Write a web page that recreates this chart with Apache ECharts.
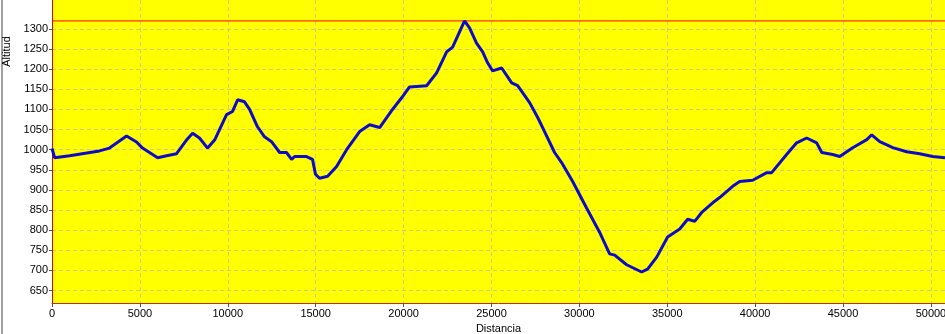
<!DOCTYPE html>
<html>
<head>
<meta charset="utf-8">
<title>Perfil</title>
<script src="https://cdn.jsdelivr.net/npm/echarts@6/dist/echarts.min.js"></script>
<style>
html, body { margin: 0; padding: 0; background: #fff; }
#main { width: 945px; height: 334px; }
</style>
</head>
<body>
<div id="main"></div>
<script>
var distancia = [0, 150, 1000, 2700, 3270, 4240, 4810, 5150, 6010, 6515, 7085, 7650, 8000, 8390, 8850,
    9250, 9930, 10270, 10560, 10950, 11240, 11690, 12090, 12490, 12950, 13340, 13630, 13800, 14480, 14820,
    14990, 15220, 15680, 16190, 16760, 17500, 18070, 18640, 19370, 19890, 20340, 21310, 21880, 22450,
    22790, 23470, 23760, 24150, 24500, 24780, 25060, 25580, 26150, 26490, 27170, 27630, 27910, 28590,
    28990, 29620, 30410, 31150, 31720, 32010, 32690, 33540, 33880, 34400, 35020, 35710, 36160, 36560,
    36960, 37700, 37980, 38720, 39120, 39860, 40660, 40940, 41790, 42360, 42930, 43500, 43790, 44410,
    44810, 45550, 46350, 46630, 47090, 47830, 48620, 49360, 50100, 50800];
var altitud = [1003, 980, 985, 997, 1004, 1034, 1019, 1004, 980, 985, 990, 1024, 1041, 1029, 1004,
    1024, 1087, 1095, 1124, 1119, 1100, 1057, 1032, 1020, 993, 993, 976, 983, 983, 976,
    939, 929, 934, 958, 1000, 1045, 1062, 1055, 1100, 1129, 1156, 1159, 1191, 1243,
    1255, 1320, 1302, 1265, 1243, 1216, 1196, 1203, 1166, 1159, 1117, 1080, 1055, 993,
    968, 921, 855, 795, 741, 738, 714, 696, 703, 733, 783, 803, 827, 822,
    844, 872, 881, 909, 921, 924, 943, 943, 988, 1017, 1029, 1017, 993, 988,
    983, 1005, 1025, 1037, 1020, 1005, 995, 990, 983, 980];
var ticksY = [650, 700, 750, 800, 850, 900, 950, 1000, 1050, 1100, 1150, 1200, 1250, 1300];
var ticksX = [0, 5000, 10000, 15000, 20000, 25000, 30000, 35000, 40000, 45000, 50000];

var puntos = distancia.map(function (d, i) { return [d, altitud[i]]; });
var altMax = Math.max.apply(null, altitud);

var fuente = { fontFamily: 'Liberation Sans', fontSize: 11, color: '#000' };
var rejilla = { show: true, lineStyle: { color: '#d2c888', type: [4, 3], width: 1 } };
var sinComas = function (v) { return String(v); };

var chart = echarts.init(document.getElementById('main'));
chart.setOption({
    animation: false,
    backgroundColor: '#fff',
    grid: {
        left: 52, right: 0, top: 0, bottom: 31,
        outerBoundsMode: 'none',
        containLabel: false,
        show: true, backgroundColor: '#ffff00', borderWidth: 0
    },
    xAxis: {
        type: 'value',
        min: 0,
        max: 50800,
        name: 'Distancia',
        nameLocation: 'middle',
        nameGap: 18,
        nameTextStyle: fuente,
        axisLine: { show: true, lineStyle: { color: '#c03010', width: 1 } },
        axisTick: { show: true, length: 4, lineStyle: { color: '#555' }, customValues: ticksX },
        axisLabel: Object.assign({ margin: 5, customValues: ticksX, formatter: sinComas }, fuente),
        splitLine: rejilla
    },
    yAxis: {
        type: 'value',
        min: 619,
        max: 1372,
        name: 'Altitud',
        nameLocation: 'middle',
        nameRotate: 90,
        nameGap: 38,
        nameTextStyle: Object.assign({ padding: [0, 0, 0, 200] }, fuente),
        axisLine: { show: true, lineStyle: { color: '#e00000', width: 1 } },
        axisTick: { show: true, length: 3, lineStyle: { color: '#555' }, customValues: ticksY },
        axisLabel: Object.assign({ margin: 4, customValues: ticksY, formatter: sinComas }, fuente),
        splitLine: rejilla
    },
    graphic: [{
        type: 'rect',
        shape: { x: 1, y: 0, width: 2, height: 334 },
        style: { fill: '#a0a0a0' },
        silent: true
    }],
    series: [{
        type: 'line',
        data: puntos,
        showSymbol: false,
        z: 3,
        lineStyle: { color: '#0c0cc8', width: 3 }
    }, {
        // linea de altitud maxima
        type: 'line',
        data: [[0, altMax], [50800, altMax]],
        showSymbol: false,
        z: 2,
        lineStyle: { color: '#ff0000', width: 1 }
    }]
});
</script>
</body>
</html>
